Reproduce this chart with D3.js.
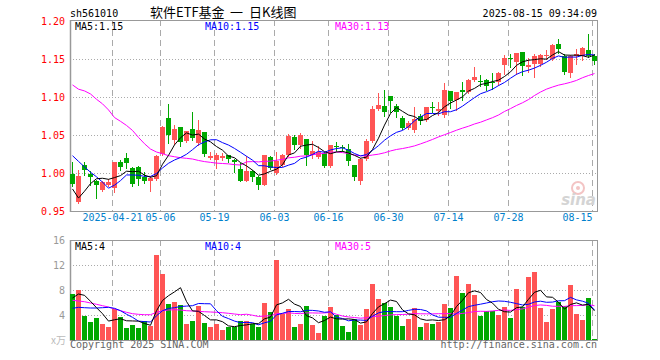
<!DOCTYPE html>
<html><head><meta charset="utf-8">
<script src="https://cdn.jsdelivr.net/npm/d3@7"></script>
<style>
body{margin:0;background:#fff}
svg{display:block}
text{font-family:"DejaVu Sans Mono","Liberation Mono",monospace;font-size:10px}
</style>
</head><body>
<svg id="c" width="660" height="360"></svg>
<script>
// ---------------- data ----------------
const dates = ["04-10","04-11","04-14","04-15","04-16","04-17","04-18","04-21","04-22","04-23",
"04-24","04-25","04-28","04-29","04-30","05-06","05-07","05-08","05-09","05-12",
"05-13","05-14","05-15","05-16","05-19","05-20","05-21","05-22","05-23","05-26",
"05-27","05-28","05-29","05-30","06-03","06-04","06-05","06-06","06-09","06-10",
"06-11","06-12","06-13","06-16","06-17","06-18","06-19","06-20","06-23","06-24",
"06-25","06-26","06-27","06-30","07-01","07-02","07-03","07-04","07-07","07-08",
"07-09","07-10","07-11","07-14","07-15","07-16","07-17","07-18","07-21","07-22",
"07-23","07-24","07-25","07-28","07-29","07-30","07-31","08-01","08-04","08-05",
"08-06","08-07","08-08","08-11","08-12","08-13","08-14","08-15"];
const tickDates = ["04-21","05-06","05-19","06-03","06-16","06-30","07-14","07-28","08-15"];
const tickLabels = ["2025-04-21","05-06","05-19","06-03","06-16","06-30","07-14","07-28","08-15"];

const open = [0.999,0.9615,1.0109,0.9987,0.990,0.9773,0.9838,0.9799,1.0149,1.0201,
1.007,1.0083,0.9948,0.9891,0.9921,1.0249,1.0722,1.0437,1.0604,1.0416,
1.0577,1.0394,1.0538,1.0193,1.0175,1.0197,1.0236,1.0175,1.0057,0.990,
1.0022,0.9943,0.9847,1.0206,1.000,1.0109,1.0241,1.0477,1.0372,1.0451,
1.0241,1.021,1.0263,1.0096,1.0352,1.0345,1.0319,1.0109,0.9891,1.0184,
1.0416,1.0844,1.0884,1.1015,1.0884,1.0722,1.0591,1.0569,1.0755,1.0691,
1.0862,1.0822,1.0757,1.1084,1.0962,1.1097,1.1062,1.1228,1.1206,1.1223,
1.1193,1.1193,1.142,1.1507,1.1455,1.159,1.1389,1.1433,1.1433,1.1533,
1.1498,1.1695,1.1542,1.1315,1.1533,1.1533,1.162,1.1533];
const high = [1.014,1.0044,1.0149,1.0022,0.9913,0.990,0.9921,1.0149,1.0166,1.0267,
1.0079,1.0087,1.0013,0.9956,1.0232,1.0613,1.091,1.0634,1.0604,1.0547,
1.0805,1.070,1.0538,1.0271,1.0263,1.0263,1.0236,1.0188,1.0131,1.0219,
1.0044,0.9965,1.0241,1.0219,1.0276,1.0249,1.0516,1.0494,1.0525,1.0451,
1.0416,1.035,1.0271,1.0372,1.0407,1.0363,1.0385,1.0109,1.0197,1.0446,
1.0884,1.105,1.1094,1.1015,1.091,1.0744,1.0687,1.0875,1.0778,1.0874,
1.094,1.094,1.118,1.1084,1.1071,1.1193,1.1236,1.1398,1.1289,1.1236,
1.1315,1.1324,1.155,1.1564,1.1581,1.159,1.1511,1.1564,1.1564,1.1616,
1.1695,1.176,1.1564,1.155,1.1629,1.166,1.1834,1.1564];
const low = [0.983,0.9606,0.9978,0.9838,0.9668,0.976,0.9825,0.9746,1.0044,1.0066,
0.9825,0.9838,0.9869,0.9759,0.9913,1.0241,1.0394,1.038,1.0359,1.0403,
1.0437,1.0372,1.0228,1.0184,1.0066,1.0166,1.014,1.0013,0.9891,0.9891,
0.9891,0.9794,0.9838,1.0057,0.9987,1.0087,1.0219,1.0315,1.0328,1.0109,
1.0197,1.0197,1.0074,1.0074,1.0284,1.0284,1.0109,0.9913,0.986,1.0175,
1.0403,1.0831,1.0744,1.0809,1.074,1.0577,1.0577,1.0534,1.065,1.0682,
1.080,1.0757,1.0735,1.0857,1.0831,1.0962,1.1049,1.1215,1.1149,1.1092,
1.1105,1.1162,1.1302,1.1389,1.1302,1.1293,1.1324,1.1258,1.1402,1.1498,
1.149,1.1585,1.1302,1.1258,1.1433,1.149,1.152,1.1433];
const close = [0.985,0.9956,1.0035,0.9943,0.9838,0.9882,0.9886,1.0149,1.0074,1.0127,
0.9851,0.9917,0.9891,0.9934,1.0228,1.0604,1.0503,1.0582,1.0403,1.0547,
1.0459,1.0569,1.0254,1.0219,1.0241,1.0219,1.0184,1.014,0.990,1.0022,
0.9943,0.9847,1.0232,1.0066,1.0162,1.0241,1.0481,1.0372,1.0503,1.0241,
1.0293,1.0271,1.0096,1.0372,1.0348,1.0341,1.0153,0.9948,1.0184,1.0416,
1.0844,1.0897,1.0809,1.0949,1.0809,1.0591,1.0656,1.0709,1.069,1.0874,
1.0853,1.0844,1.1092,1.0944,1.1071,1.1062,1.1223,1.1267,1.1197,1.1149,
1.118,1.1315,1.1507,1.150,1.1581,1.1411,1.142,1.1546,1.1555,1.1559,
1.1686,1.1638,1.1324,1.1542,1.1564,1.1651,1.1533,1.1476];
const volume = [7.41,8.05,3.89,2.93,3.57,2.61,2.13,4.96,3.73,1.97,
2.45,1.97,3.09,2.29,13.65,10.61,5.81,6.13,5.65,2.61,
3.09,5.49,2.77,2.13,2.61,1.65,2.13,2.13,3.09,3.09,
2.61,2.13,5.97,4.53,12.85,4.21,5.01,2.13,2.61,5.49,
2.45,1.17,3.89,5.33,4.05,2.29,1.33,3.41,2.45,5.01,
9.01,6.61,5.97,5.33,3.89,2.29,3.41,5.17,2.13,2.77,
2.61,2.93,5.81,5.17,10.29,7.57,9.01,7.25,3.89,4.69,
4.69,4.05,5.33,3.57,8.21,5.33,10.13,10.93,5.17,2.93,
5.01,6.13,5.49,8.85,4.21,3.25,6.77,0.21];

// moving-average values before a full window exists
const ma5Head = [0.979,0.967,0.976,0.986];
const ma10Head = [1.0228,1.0153,1.008,1.001,0.995,0.988,0.980,0.984,0.990];
const ma30Head = [1.1159,1.1103,1.108,1.104,1.097,1.091,1.083,1.073,1.068,1.0626,
1.056,1.0468,1.0385,1.0315,1.0276,1.0254,1.0228,1.0214,1.0201,1.0193,
1.0184,1.0165,1.015,1.014,1.013,1.0125,1.012,1.011,1.0105];
const vma5Head = [6.72,7.36,7.15,6.19];
const vma10Head = [5.07,5.23,5.17,5.12,5.12,5.17,5.23,5.07,4.69];
const vma30Head = [6.35,6.24,6.13,5.92,5.71,5.49,5.28,4.96,4.69,4.43,
4.21,4.11,4.05,4.05,4.43,4.69,4.8,4.85,4.8,4.69,
4.64,4.59,4.53,4.48,4.43,4.37,4.27,4.16,4.05];

const priceTicks = [0.95,1.00,1.05,1.10,1.15,1.20];
const volTicks = [4,8,12,16];
const priceLegend = ["1.15","1.15","1.13"];
const volLegend = ["4","4","5"];

// ---------------- drawing ----------------
const RED = "#ff5555", GREEN = "#00a800";
const svg = d3.select("#c");
const N = dates.length;
const L = 70, R = 598;
const x = d3.scaleLinear().domain([0, N]).range([L, R]);
const yP = d3.scaleLinear().domain([0.95, 1.20]).range([211, 21]);
const yV = d3.scaleLinear().domain([0, 16]).range([340, 240]);

function ma(arr, n, head){
  return arr.map((v,i)=> i < n-1 ? head[i] : d3.mean(arr.slice(i-n+1, i+1)));
}
const isUp = close.map((c,i)=> c >= open[i]);
const tickIdx = tickDates.map(d=>dates.indexOf(d));

// header
svg.append("text").attr("x",70).attr("y",16.5).attr("fill","#000").text("sh561010");
const tf = "'Noto Sans CJK SC',sans-serif";
svg.append("text").attr("x",150).attr("y",17).attr("fill","#000")
  .style("font-family",tf).style("font-size","13px").text("软件ETF基金");
svg.append("text").attr("x",230).attr("y",17).attr("fill","#000")
  .style("font-family",tf).style("font-size","13px").text("一");
svg.append("text").attr("x",249).attr("y",17).attr("fill","#000")
  .style("font-family",tf).style("font-size","13px").text("日K线图");
svg.append("text").attr("x",597).attr("y",16.5).attr("text-anchor","end").attr("fill","#000")
  .text("2025-08-15 09:34:09");

// ---- grids
function panel(top, bottom, hVals, yS){
  const g = svg.append("g");
  g.selectAll("line.h").data(hVals).enter().append("line")
    .attr("x1",L).attr("x2",R).attr("y1",d=>Math.round(yS(d))+0.5).attr("y2",d=>Math.round(yS(d))+0.5)
    .attr("stroke","#aaa").attr("stroke-dasharray","1,2");
  g.selectAll("line.v").data(tickIdx).enter().append("line")
    .attr("x1",d=>x(d)+0.5).attr("x2",d=>x(d)+0.5).attr("y1",top).attr("y2",bottom)
    .attr("stroke","#aaa").attr("stroke-dasharray","6,4");
  return g;
}
panel(20, 211, [1.00,1.05,1.10,1.15], yP);
panel(240, 340, [4,8,12], yV);

// frames
function frame(top,bottom){
  svg.append("rect").attr("x",L+0.5).attr("y",top+0.5).attr("width",R-L-1).attr("height",bottom-top)
    .attr("fill","none").attr("stroke","#999");
  svg.append("line").attr("x1",L+0.5).attr("x2",L+0.5).attr("y1",top).attr("y2",bottom+1)
    .attr("stroke","#999").attr("stroke-width",1.5);
}
frame(20,211);
frame(240,340);

// watermark
const wm = svg.append("g");
wm.append("circle").attr("cx",578).attr("cy",188).attr("r",6).attr("fill","none").attr("stroke","#f3c4c4").attr("stroke-width",2);
wm.append("circle").attr("cx",578).attr("cy",188).attr("r",2).attr("fill","#f3c4c4");
wm.append("text").attr("x",596).attr("y",205).attr("text-anchor","end")
  .style("font-family","'DejaVu Sans',sans-serif").style("font-size","15px").style("font-weight","bold").style("font-style","italic")
  .attr("fill","#d4d4d4").text("sina");

// ---- price axis
const axP = d3.axisLeft(yP).tickValues(priceTicks).tickSize(0).tickPadding(0).tickFormat(d3.format(".2f"));
const gP = svg.append("g").attr("transform","translate(65,0)").call(axP);
gP.select(".domain").remove();
gP.selectAll("text").attr("fill","#f00").style("font-family","'DejaVu Sans Mono',monospace").style("font-size","10px");

// ---- volume axis
const axV = d3.axisLeft(yV).tickValues(volTicks).tickSize(0).tickPadding(0).tickFormat(d3.format("d"));
const gV = svg.append("g").attr("transform","translate(65,0)").call(axV);
gV.select(".domain").remove();
gV.selectAll("text").attr("fill","#999").style("font-family","'DejaVu Sans Mono',monospace").style("font-size","10px");
svg.append("text").attr("x",66).attr("y",344).attr("text-anchor","end").attr("fill","#bbb")
  .style("font-family","'Noto Sans CJK SC',sans-serif").style("font-size","10px").text("x万");

// ---- date axis
const axD = d3.axisBottom(x).tickValues(tickIdx).tickSize(0).tickPadding(0)
  .tickFormat((d,i)=>tickLabels[i]);
const gD = svg.append("g").attr("transform","translate(0,214)").call(axD);
gD.select(".domain").remove();
gD.selectAll("text").attr("fill","#0080cc").attr("dy","0.71em")
  .style("font-family","'DejaVu Sans Mono',monospace").style("font-size","10px")
  .attr("text-anchor",(d,i)=> i===tickIdx.length-1 ? "end" : "middle");

// ---- candles
const cg = svg.append("g").attr("shape-rendering","crispEdges");
const idx = d3.range(N);
cg.selectAll("line.w").data(idx).enter().append("line")
  .attr("x1",i=>x(i)+2.5).attr("x2",i=>x(i)+2.5)
  .attr("y1",i=>Math.round(yP(high[i]))).attr("y2",i=>Math.round(yP(low[i]))+1)
  .attr("stroke",i=>isUp[i]?RED:GREEN);
cg.selectAll("rect.b").data(idx).enter().append("rect")
  .attr("x",i=>x(i)).attr("width",5)
  .attr("y",i=>Math.round(yP(Math.max(open[i],close[i]))))
  .attr("height",i=>Math.max(1, Math.round(yP(Math.min(open[i],close[i]))) - Math.round(yP(Math.max(open[i],close[i])))))
  .attr("fill",i=>isUp[i]?RED:GREEN);

// ---- volume bars
cg.selectAll("rect.v").data(idx).enter().append("rect")
  .attr("x",i=>x(i)).attr("width",5)
  .attr("y",i=>Math.round(yV(volume[i])))
  .attr("height",i=>yV(0)-Math.round(yV(volume[i])))
  .attr("fill",i=>isUp[i]?RED:GREEN);

// ---- MA lines
function drawLine(vals, yS, color){
  const line = d3.line().x((d,i)=>x(i)+2.5).y(d=>yS(d));
  svg.append("path").datum(vals).attr("d",line).attr("fill","none").attr("stroke",color).attr("stroke-width",1);
}
drawLine(ma(close,30,ma30Head), yP, "#ff00ff");
drawLine(ma(close,10,ma10Head), yP, "#0000ff");
drawLine(ma(close,5,ma5Head), yP, "#000");
drawLine(ma(volume,30,vma30Head), yV, "#ff00ff");
drawLine(ma(volume,10,vma10Head), yV, "#0000ff");
drawLine(ma(volume,5,vma5Head), yV, "#000");

// ---- legends
const legCols = ["#000","#0000ff","#ff00ff"], legX = [75,205,335], legNames=["MA5:","MA10:","MA30:"];
legNames.forEach((n,i)=>{
  svg.append("text").attr("x",legX[i]).attr("y",30).attr("fill",legCols[i]).text(n+priceLegend[i]);
  svg.append("text").attr("x",legX[i]).attr("y",250).attr("fill",legCols[i]).text(n+volLegend[i]);
});

// footer
svg.append("text").attr("x",70).attr("y",348).attr("fill","#666").text("Copyright 2025 SINA.COM");
svg.append("text").attr("x",597).attr("y",348).attr("text-anchor","end").attr("fill","#666").text("http://finance.sina.com.cn");
</script>
</body></html>
